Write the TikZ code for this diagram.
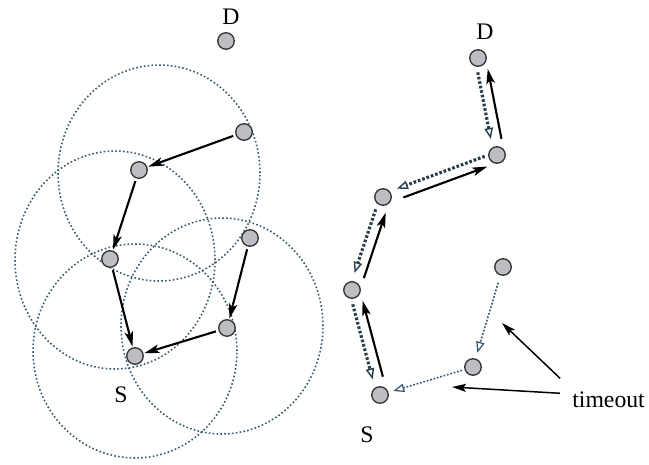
\documentclass[tikz,border=0pt]{standalone}
\usepackage{fontspec}
\setmainfont{Liberation Serif}
\usetikzlibrary{arrows.meta, positioning, calc}
\definecolor{rangeteal}{RGB}{55, 88, 108}
\definecolor{hostgray}{RGB}{188, 190, 195}

\begin{document}
\begin{tikzpicture}[x=0.02cm, y=-0.02cm,
    host/.style={circle, draw=black!80, fill=hostgray, line width=0.75pt,
      minimum size=0.33cm, inner sep=0pt},
    tag/.style={font=\fontsize{13.5}{15}\selectfont, inner sep=0pt},
    txrange/.style={draw=rangeteal, line width=0.9pt, dash pattern=on 0.9pt off 1.3pt},
    hop/.style={-{Stealth[length=3mm, width=1.7mm, inset=0.7mm]}, line width=1.2pt,
      shorten <=1.5pt, shorten >=0.5pt},
    rrep/.style={-{Stealth[length=3mm, width=1.7mm, inset=0.7mm]}, line width=1.2pt},
    rreq/.style={-{Triangle[open, length=2.2mm, width=1.7mm, line width=0.8pt]},
      rangeteal!70!black, line width=1.8pt, dash pattern=on 1.5pt off 1.1pt},
    lost/.style={-{Triangle[open, length=2.2mm, width=1.7mm, line width=0.7pt]},
      rangeteal, line width=0.9pt, dash pattern=on 1pt off 1pt},
    pointer/.style={-{Stealth[length=2.8mm, width=1.6mm, inset=0.6mm]}, line width=0.85pt}]
  \useasboundingbox (0,0) rectangle (649,464);

  % transmission ranges
  \draw[txrange] (159,173) ellipse [x radius=2.02cm, y radius=2.16cm];
  \draw[txrange] (115,260) ellipse [x radius=2.0cm, y radius=2.18cm];
  \draw[txrange] (135,351) ellipse [x radius=2.04cm, y radius=2.14cm];
  \draw[txrange] (222,326) ellipse [x radius=2.02cm, y radius=2.16cm];

  % left: flooding towards the source
  \node[host] (Dl) at (226,41) {};
  \node[host] (a1) at (244,132) {};
  \node[host] (a2) at (139,170) {};
  \node[host] (a3) at (110,259) {};
  \node[host] (a4) at (250,238) {};
  \node[host] (a5) at (227,328) {};
  \node[host] (Sl) at (135,356) {};
  \node[tag] (Dltag) at (231,17) {D};
  \node[tag] (Sltag) at (121,395) {S};

  \draw[hop] (a1) -- (a2);
  \draw[hop] (a2) -- (a3);
  \draw[hop] (a3) -- (Sl);
  \draw[hop] (a4) -- (a5);
  \draw[hop] (a5) -- (Sl);

  % right: route reply and request
  \node[host] (Dr) at (478,58) {};
  \node[host] (b1) at (497,155) {};
  \node[host] (b2) at (383,197) {};
  \node[host] (b3) at (352,290) {};
  \node[host] (Sr) at (380,395) {};
  \node[host] (c1) at (503,267) {};
  \node[host] (c2) at (473,367) {};
  \node[tag] (Drtag) at (485,32) {D};
  \node[tag] (Srtag) at (367,435) {S};

  \draw[rreq] ($(Dr)!0.28cm!(b1)!0.06cm!-90:(b1)$) -- ($(b1)!0.34cm!(Dr)!0.06cm!90:(Dr)$);
  \draw[rrep] ($(b1)!0.30cm!(Dr)!0.15cm!-90:(Dr)$) -- ($(Dr)!0.25cm!(b1)!0.15cm!90:(b1)$);
  \draw[rreq] ($(b1)!0.24cm!(b2)!0.06cm!-90:(b2)$) -- ($(b2)!0.32cm!(b1)!0.06cm!90:(b1)$);
  \draw[rrep] ($(b2)!0.38cm!(b1)!0.15cm!-90:(b1)$) -- ($(b1)!0.26cm!(b2)!0.15cm!90:(b2)$);
  \draw[rreq] ($(b2)!0.28cm!(b3)!0.06cm!-90:(b3)$) -- ($(b3)!0.34cm!(b2)!0.06cm!90:(b2)$);
  \draw[rrep] ($(b3)!0.30cm!(b2)!0.15cm!-90:(b2)$) -- ($(b2)!0.28cm!(b3)!0.15cm!90:(b3)$);
  \draw[rreq] ($(b3)!0.28cm!(Sr)!0.06cm!-90:(Sr)$) -- ($(Sr)!0.34cm!(b3)!0.06cm!90:(b3)$);
  \draw[rrep] ($(Sr)!0.34cm!(b3)!0.15cm!-90:(b3)$) -- ($(b3)!0.26cm!(Sr)!0.15cm!90:(Sr)$);

  \draw[lost, shorten <=0.15cm, shorten >=0.12cm] (c1) -- (c2);
  \draw[lost, shorten <=0.05cm, shorten >=0.1cm] (c2) -- (Sr);

  % timeout pointers
  \node[tag, anchor=base west] (tout) at (572,407) {timeout};
  \coordinate (gap1) at (502,323);
  \coordinate (gap2) at (452,387);
  \draw[pointer] ($(tout.west)+(-12,-21)$) -- (gap1);
  \draw[pointer] ($(tout.west)+(-12,-6)$) -- (gap2);
\end{tikzpicture}
\end{document}
